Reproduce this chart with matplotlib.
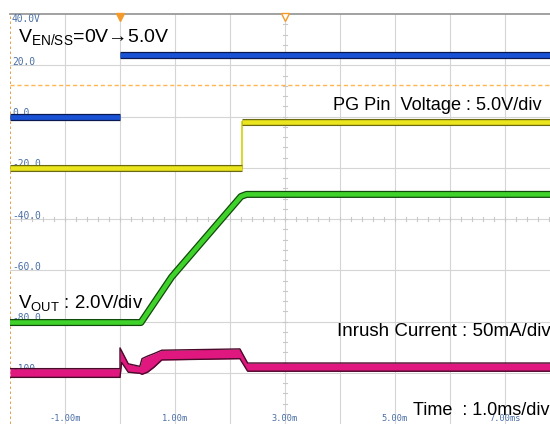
import numpy as np
import matplotlib
matplotlib.use('Agg')
import matplotlib.pyplot as plt

plt.rcParams['font.family'] = ['Liberation Sans', 'DejaVu Sans']
plt.rcParams['mathtext.fontset'] = 'custom'
plt.rcParams['mathtext.rm'] = 'Liberation Sans'

# scope screen: 10 x 1.0ms horizontal, 8 x 20 units vertical
time_ticks = [-1, 1, 3, 5, 7]
time_labels = ['-1.00m', '1.00m', '3.00m', '5.00m', '7.00ms']
level_ticks = [40, 20, 0, -20, -40, -60, -80, -100]
level_labels = ['40.0V', '20.0', '0.0', '-20.0', '-40.0', '-60.0', '-80.0', '-100']
trig_level = 12.3

# EN/SS (blue): 0V -> 5.0V at t = 0
en_t = [-2.0, 0.0, 0.0, 8.0]
en_v = [0.0, 0.0, 24.0, 24.0]

# PG pin (yellow)
pg_t = [-2.0, 2.21, 2.21, 8.0]
pg_v = [-20.0, -20.0, -2.0, -2.0]

# VOUT (green) soft-start ramp
vout_t = [-2.0, 0.38, 0.94, 2.20, 2.30, 8.0]
vout_v = [-80.4, -80.4, -62.6, -31.2, -30.4, -30.4]

# inrush current (magenta) band, upper / lower edge
cur_t = [-2.00, 0.00, 0.00, 0.03, 0.15, 0.36, 0.40, 0.50, 0.62, 0.76, 2.18, 2.32, 8.00]
cur_hi = [-98.4, -98.4, -90.3, -91.5, -96.5, -97.5, -94.5, -93.5, -92.5, -91.2, -90.7, -96.2, -96.2]
cur_lo = [-101.8, -101.8, -101.8, -96.0, -99.8, -100.2, -100.6, -99.8, -97.8, -95.0, -94.5, -99.4, -99.4]

fig = plt.figure(figsize=(5.5, 4.24), dpi=100)
ax = fig.add_axes([10 / 550, 0, 550 / 550, 410 / 424])
ax.set_xlim(-2, 8)
ax.set_ylim(-120, 40)
ax.set_axis_off()

grid_c = '#d5d5d5'
for t in range(-1, 9):
    ax.axvline(t, color=grid_c, lw=0.8, zorder=1)
for v in range(-100, 40, 20):
    ax.axhline(v, color=grid_c, lw=0.8, zorder=1)

# small ticks on the centre cross
for t in np.arange(-2, 8.01, 0.2):
    ax.plot([t, t], [-40.8, -39.2], color='#c8c8c8', lw=0.8, zorder=1)
for v in np.arange(-120, 40.1, 4):
    ax.plot([2.96, 3.04], [v, v], color='#c8c8c8', lw=0.8, zorder=1)

ax.axhline(40, color='#9a9a9a', lw=1.3, zorder=2, clip_on=False)
ax.axvline(-2, color='#e0902e', lw=1.2, ls=(0, (1.5, 1.5)), zorder=2)
ax.axhline(trig_level, color='#ffb650', lw=1.0, ls=(0, (3, 2)), zorder=2)

# trigger point and horizontal position markers
ax.plot([0], [38.9], marker='v', ms=6, color='#f39a2a', mec='#f39a2a', zorder=6, clip_on=False)
ax.plot([3], [38.9], marker='v', ms=5.5, mfc='white', mec='#f39a2a', mew=1.0, zorder=6, clip_on=False)

lab_c = '#4a6fa5'
for v, s in zip(level_ticks, level_labels):
    yy = 38.0 if v == 40 else v + 1.3
    ax.text(-1.965, yy, s, color=lab_c, fontsize=6.9, family='DejaVu Sans Mono',
            ha='left', va='center', zorder=3)
for t, s in zip(time_ticks, time_labels):
    ax.text(t, -118.0, s, color=lab_c, fontsize=6.2, family='DejaVu Sans Mono',
            ha='center', va='center', zorder=3)


def trace(tt, vv, bright, dark, lw):
    ax.plot(tt, vv, color=dark, lw=lw + 1.8, solid_capstyle='butt', solid_joinstyle='round', zorder=4)
    ax.plot(tt, vv, color=bright, lw=lw, solid_capstyle='butt', solid_joinstyle='round', zorder=5)


# blue: two flat levels, the edge itself is not drawn
trace(en_t[:2], en_v[:2], '#1a52d6', '#0a1a50', 3.4)
trace(en_t[2:], en_v[2:], '#1a52d6', '#0a1a50', 3.4)

# yellow with a thin rising edge
ax.plot(pg_t[1:3], pg_v[1:3], color='#d8d418', lw=1.3, zorder=4)
trace(pg_t[:2], pg_v[:2], '#ebe51e', '#6b6a10', 3.3)
trace(pg_t[2:], pg_v[2:], '#ebe51e', '#6b6a10', 3.3)

trace(vout_t, vout_v, '#3fd22a', '#114a0c', 3.3)

ax.fill_between(cur_t, cur_lo, cur_hi, color='#e0177f', lw=0, zorder=5)
ax.plot(cur_t, cur_hi, color='#4a0a2a', lw=1.0, zorder=5)
ax.plot(cur_t, cur_lo, color='#4a0a2a', lw=1.0, zorder=5)

txt = dict(color='black', fontsize=14, ha='left', va='baseline', zorder=7)
ax.text(-1.855, 29.1, r'$\mathregular{V_{EN/SS}}$=0V→5.0V', **txt)
txt['fontsize'] = 13.4
ax.text(-1.855, -74.7, r'$\mathregular{V_{OUT}}$ : 2.0V/div', **txt)
txt['fontsize'] = 13.1
ax.text(3.873, 2.5, 'PG Pin  Voltage : 5.0V/div', **txt)
txt['fontsize'] = 13.5
ax.text(3.945, -85.7, 'Inrush Current : 50mA/div', **txt)
txt['fontsize'] = 13
ax.text(5.327, -116.5, 'Time  : 1.0ms/div', **txt)

fig.savefig('out.png', dpi=100)
